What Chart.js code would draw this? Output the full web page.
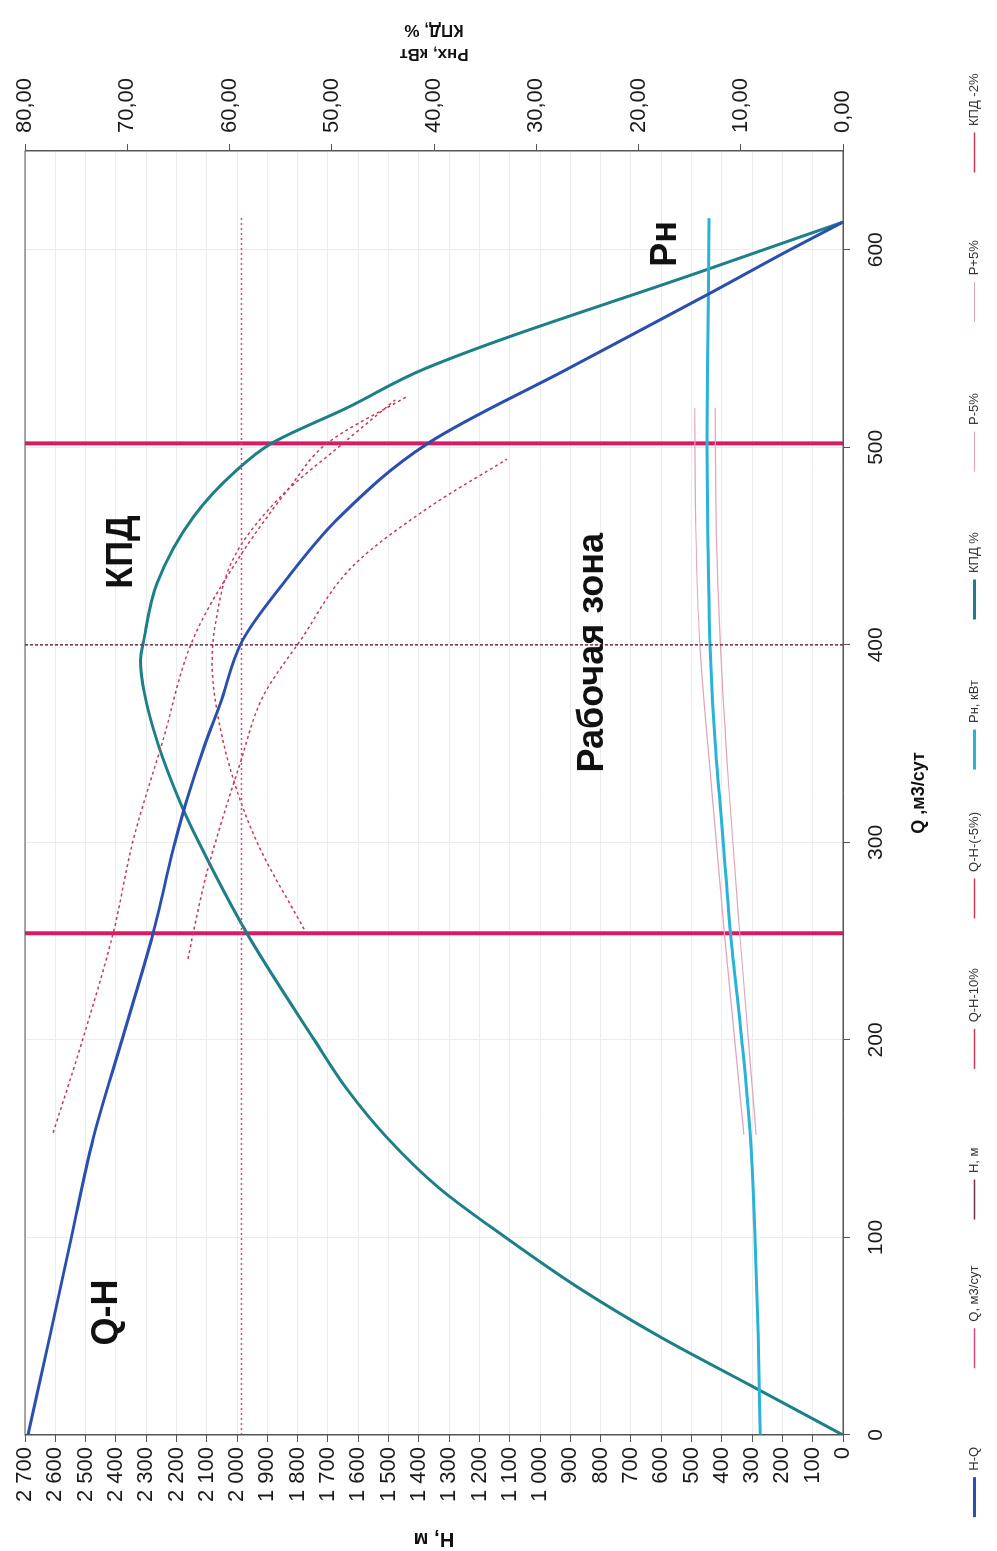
<!DOCTYPE html>
<html lang="ru">
<head>
<meta charset="utf-8">
<title>Характеристика насоса</title>
<script src="https://cdn.jsdelivr.net/npm/chart.js@4.4.1/dist/chart.umd.min.js"></script>
<style>
  html,body{margin:0;padding:0;background:#fff;overflow:hidden;}
  body{width:997px;height:1551px;position:relative;}
  /* график строится в альбомной ориентации и поворачивается на 90° против часовой */
  #wrap{position:absolute;left:0;top:0;width:1551px;height:997px;transform-origin:0 0;transform:translate(0,1551px) rotate(-90deg);}
</style>
</head>
<body>
<div id="wrap"><canvas id="chPump"></canvas></div>
<script>
// Напорная характеристика Q-H
const qHQ = [0, 50, 100, 150, 200, 254, 300, 322, 350, 370, 402, 431, 465, 502, 540, 578, 600, 614];
const hHQ = [2690, 2618, 2547, 2475, 2380, 2277, 2205, 2165, 2105, 2056, 1983, 1848, 1660, 1370, 905, 439, 175, 0];

// КПД, %
const qKpd = [0, 25, 50, 75, 100, 125, 150, 175, 200, 254, 300, 320, 350, 375, 392, 402, 431, 465, 488, 502, 520, 540, 590, 614];
const kpd  = [0, 9, 18, 26, 33, 39.5, 44.5, 48.5, 51.7, 58.3, 63, 64.8, 67, 68.3, 68.7, 68.4, 67.1, 63.5, 59.4, 55.9, 48.5, 40.8, 13.3, 0];

// Мощность Рн, кВт
const qPn = [0, 50, 100, 150, 200, 254, 300, 350, 400, 450, 502, 560, 616];
const pn  = [8.1, 8.3, 8.6, 9.05, 9.9, 11.0, 11.7, 12.5, 13.0, 13.2, 13.3, 13.2, 13.1];

// допуски по мощности
const qP5     = [152, 254, 330, 400, 460, 520];
const pPlus5  = [9.7, 11.6, 12.9, 14.0, 14.4, 14.5];
const pMinus5 = [8.5, 10.1, 11.2, 12.0, 12.4, 12.5];

// допуски по напору
const qHm5 = [153, 200, 254, 301, 352, 403, 445, 480, 502, 526];
const hHm5 = [2607, 2510, 2409, 2343, 2244, 2145, 1990, 1825, 1703, 1436];
const qH10 = [241, 254, 285, 340, 374, 402, 440, 470, 494];
const hH10 = [2162, 2145, 2099, 1990, 1914, 1792, 1617, 1363, 1109];

// КПД -2%
const qKpd2 = [256, 300, 335, 369, 390, 410, 445, 475, 502, 524];
const kpd2  = [52.7, 57.3, 59.8, 61.3, 61.7, 61.4, 59.5, 55.0, 48.9, 43.8];

// рабочая точка и границы рабочей зоны
const hWork = 1985, qWorkEnd = 617;
const qWork = 400;
const qZone = [254, 502];

// подписи на поле графика
const noteText = ['Q-H', 'КПД', 'Рн', 'Рабочая зона'];
const noteQ    = [62, 447, 603, 396];
const noteH    = [2430, 2380, 584, 825];

const FONT = '"Liberation Sans", Arial, sans-serif';

function line(label, xs, ys, color, width, dash, axis, smooth){
    return {
        label, data: xs.map((q,i)=>({x:q, y:ys[i]})),
        borderColor: color, backgroundColor: color, borderWidth: width, borderDash: dash,
        yAxisID: axis, showLine: true, pointRadius: 0, pointHoverRadius: 0, fill: false,
        cubicInterpolationMode: smooth ? 'monotone' : 'default', tension: 0
    };
}

const dsList = [
    line('H-Q', qHQ, hHQ, '#2a4fae', 3, [], 'y', true),
    line('Q, м3/сут', [0, qWorkEnd], [hWork, hWork], '#d9467f', 1.5, [2,3], 'y', false),
    line('H, м', [qWork, qWork], [0, 2700], '#6a3346', 1.5, [3,2], 'y', false),
    line('Q-H-10%', qH10, hH10, '#c73a58', 1.5, [3,3], 'y', true),
    line('Q-H-(-5%)', qHm5, hHm5, '#c73a58', 1.5, [3,3], 'y', true),
    line('Рн, кВт', qPn, pn, '#2ab3d6', 3, [], 'y2', true),
    line('КПД %', qKpd, kpd, '#1d7f89', 3, [], 'y2', true),
    line('P-5%', qP5, pMinus5, '#e3a3bb', 1.2, [], 'y2', true),
    line('P+5%', qP5, pPlus5, '#e3a3bb', 1.2, [], 'y2', true),
    line('КПД -2%', qKpd2, kpd2, '#c73a58', 1.5, [3,3], 'y2', true)
];
qZone.forEach(q => dsList.push(line('', [q,q], [0,2700], '#d81b64', 4, [], 'y', false)));

// ровные промежутки в легенде
const meas = document.createElement('canvas').getContext('2d');
meas.font = '13px ' + FONT;
function padTo(t, w){ let s=t; while(meas.measureText(s+'\u00a0').width <= w) s+='\u00a0'; return s; }

function fmtH(v){ return String(v).replace(/\B(?=(\d{3})+(?!\d))/g, ' '); }

const extras = {
    id: 'extras',
    afterDatasetsDraw(chart){
        const {ctx, chartArea:a, scales:{x, y}} = chart;
        ctx.save();
        ctx.strokeStyle = '#555'; ctx.lineWidth = 1;
        ctx.strokeRect(a.left, a.top, a.right-a.left, a.bottom-a.top);
        ctx.fillStyle = '#111'; ctx.textAlign = 'center'; ctx.textBaseline = 'middle';
        ctx.font = 'bold 36px ' + FONT;
        noteText.forEach((t,i)=> ctx.fillText(t, x.getPixelForValue(noteQ[i]), y.getPixelForValue(noteH[i])));
        // заголовок правой оси
        ctx.font = 'bold 17px ' + FONT;
        const cy = (a.top + a.bottom)/2;
        [['Рнх, кВт', 97], ['КПД, %', 121]].forEach(([t,dx])=>{
            ctx.save(); ctx.translate(a.right+dx, cy); ctx.rotate(-Math.PI/2); ctx.fillText(t, 0, 0); ctx.restore();
        });
        ctx.restore();
    }
};

new Chart(document.getElementById('chPump'), {
    type: 'scatter',
    data: { datasets: dsList },
    options: {
        responsive: true, maintainAspectRatio: false, animation: false,
        layout: { padding: { top: 25, left: 0, right: 0, bottom: 6 } },
        plugins: {
            tooltip: { enabled: false },
            legend: {
                position: 'bottom',
                labels: {
                    usePointStyle: true, pointStyle: 'line', pointStyleWidth: 40, padding: 10,
                    color: '#333', font: { size: 13, family: FONT },
                    generateLabels(chart){
                        const items = Chart.defaults.plugins.legend.labels.generateLabels(chart);
                        return items.filter(it => it.text !== '').map(it => { it.text = padTo(it.text, 95); return it; });
                    }
                }
            }
        },
        scales: {
            x: {
                type: 'linear', min: 0, max: 650,
                ticks: { stepSize: 100, includeBounds: false, padding: 14, color: '#1a1a1a', font: { size: 21, family: FONT } },
                grid: { color: '#ececec', tickColor: '#555', tickLength: 7 },
                border: { color: '#555' },
                title: { display: true, text: 'Q ,м3/сут', color: '#111', font: { size: 18, weight: 'bold', family: FONT }, padding: { top: 0, bottom: 28 } },
                afterFit(s){ s.height = 115; }
            },
            y: {
                type: 'linear', position: 'left', min: 0, max: 2700,
                ticks: { stepSize: 100, autoSkip: false, padding: 5, color: '#1a1a1a', font: { size: 22, family: FONT }, callback: v => fmtH(v) },
                grid: { color: '#ececec', tickColor: '#555', tickLength: 7 },
                border: { color: '#555' },
                title: { display: true, text: 'H, м', color: '#111', font: { size: 20, weight: 'bold', family: FONT }, padding: 0 },
                afterFit(s){ s.width = 116; }
            },
            y2: {
                type: 'linear', position: 'right', min: 0, max: 80,
                ticks: { stepSize: 10, padding: 11, color: '#1a1a1a', font: { size: 22, family: FONT }, callback: v => v.toFixed(2).replace('.', ',') },
                grid: { drawOnChartArea: false, tickColor: '#555', tickLength: 7 },
                border: { color: '#555' },
                afterFit(s){ s.width = 151; }
            }
        }
    },
    plugins: [extras]
});
</script>
</body>
</html>
